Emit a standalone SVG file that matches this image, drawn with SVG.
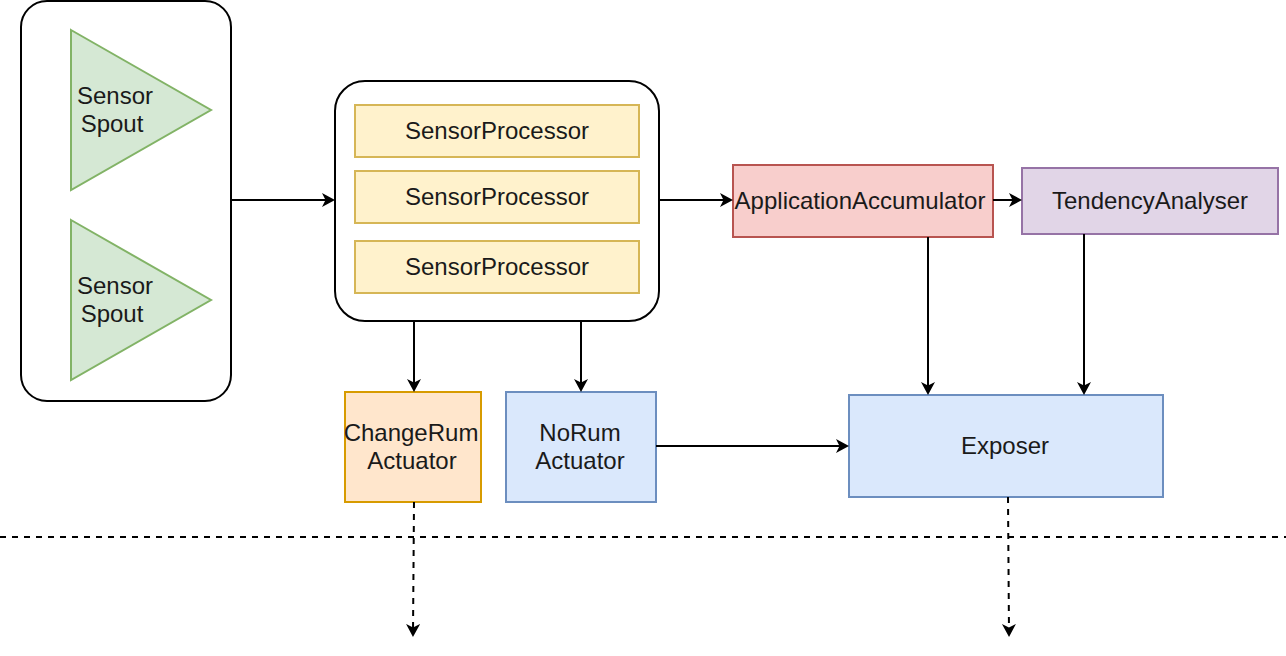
<svg xmlns="http://www.w3.org/2000/svg" width="1286" height="656" viewBox="0 0 1286 656">
<style>
text{font-family:"Liberation Sans",Arial,sans-serif;font-size:24px;fill:#1a1a1a;text-anchor:middle}
.c{fill:#fff;stroke:#000;stroke-width:2}
.tri{fill:#d5e8d4;stroke:#82b366;stroke-width:2}
.sp{fill:#fff2cc;stroke:#d6b656;stroke-width:2}
.red{fill:#f8cecc;stroke:#b85450;stroke-width:2}
.pur{fill:#e1d5e7;stroke:#9673a6;stroke-width:2}
.blu{fill:#dae8fc;stroke:#6c8ebf;stroke-width:2}
.org{fill:#ffe6cc;stroke:#d79b00;stroke-width:2}
.e{fill:none;stroke:#000;stroke-width:2}
.d{stroke-dasharray:6 6}
</style>
<defs>
<marker id="ar" markerUnits="userSpaceOnUse" markerWidth="16" markerHeight="16" refX="9" refY="7" orient="auto">
<path d="M0,0 L13,7 L0,14 L3.5,7 Z" fill="#000"/>
</marker>
</defs>
<rect width="1286" height="656" fill="#fff"/>
<g id="spouts">
<rect class="c" x="21" y="1" width="210" height="400" rx="26"/>
<g id="spout1"><polygon class="tri" points="71,30 211,110 71,190"/><text x="115" y="104">Sensor</text><text x="112" y="132">Spout</text></g>
<g id="spout2"><polygon class="tri" points="71,220 211,300 71,380"/><text x="115" y="294">Sensor</text><text x="112" y="322">Spout</text></g>
</g>
<g id="processors">
<rect class="c" x="335" y="81" width="324" height="240" rx="30"/>
<g id="sp1"><rect class="sp" x="355" y="105" width="284" height="52"/><text x="497" y="139">SensorProcessor</text></g>
<g id="sp2"><rect class="sp" x="355" y="171" width="284" height="52"/><text x="497" y="205">SensorProcessor</text></g>
<g id="sp3"><rect class="sp" x="355" y="241" width="284" height="52"/><text x="497" y="275">SensorProcessor</text></g>
</g>
<g id="appacc"><rect class="red" x="733" y="165" width="260" height="72"/><text x="860" y="209">ApplicationAccumulator</text></g>
<g id="tendency"><rect class="pur" x="1022" y="168" width="256" height="66"/><text x="1150" y="209">TendencyAnalyser</text></g>
<g id="exposer"><rect class="blu" x="849" y="395" width="314" height="102"/><text x="1005" y="454">Exposer</text></g>
<g id="changerum"><rect class="org" x="345" y="392" width="136" height="110"/><text x="411" y="441">ChangeRum</text><text x="412" y="469">Actuator</text></g>
<g id="norum"><rect class="blu" x="506" y="392" width="150" height="110"/><text x="580" y="441">NoRum</text><text x="580" y="469">Actuator</text></g>
<g id="connectors">
<line class="e" x1="231" y1="200" x2="331" y2="200" marker-end="url(#ar)"/>
<line class="e" x1="659" y1="200" x2="729" y2="200" marker-end="url(#ar)"/>
<line class="e" x1="993" y1="200" x2="1018" y2="200" marker-end="url(#ar)"/>
<line class="e" x1="414" y1="321" x2="414" y2="388" marker-end="url(#ar)"/>
<line class="e" x1="581" y1="321" x2="581" y2="388" marker-end="url(#ar)"/>
<line class="e" x1="928" y1="237" x2="928" y2="391" marker-end="url(#ar)"/>
<line class="e" x1="1084" y1="234" x2="1084" y2="391" marker-end="url(#ar)"/>
<line class="e" x1="656" y1="446" x2="845" y2="446" marker-end="url(#ar)"/>
<line class="e d" x1="414" y1="502" x2="413" y2="633" marker-end="url(#ar)"/>
<line class="e d" x1="1008" y1="497" x2="1009" y2="633" marker-end="url(#ar)"/>
</g>
<line id="boundary" class="e d" x1="0" y1="537" x2="1286" y2="537"/>
</svg>
